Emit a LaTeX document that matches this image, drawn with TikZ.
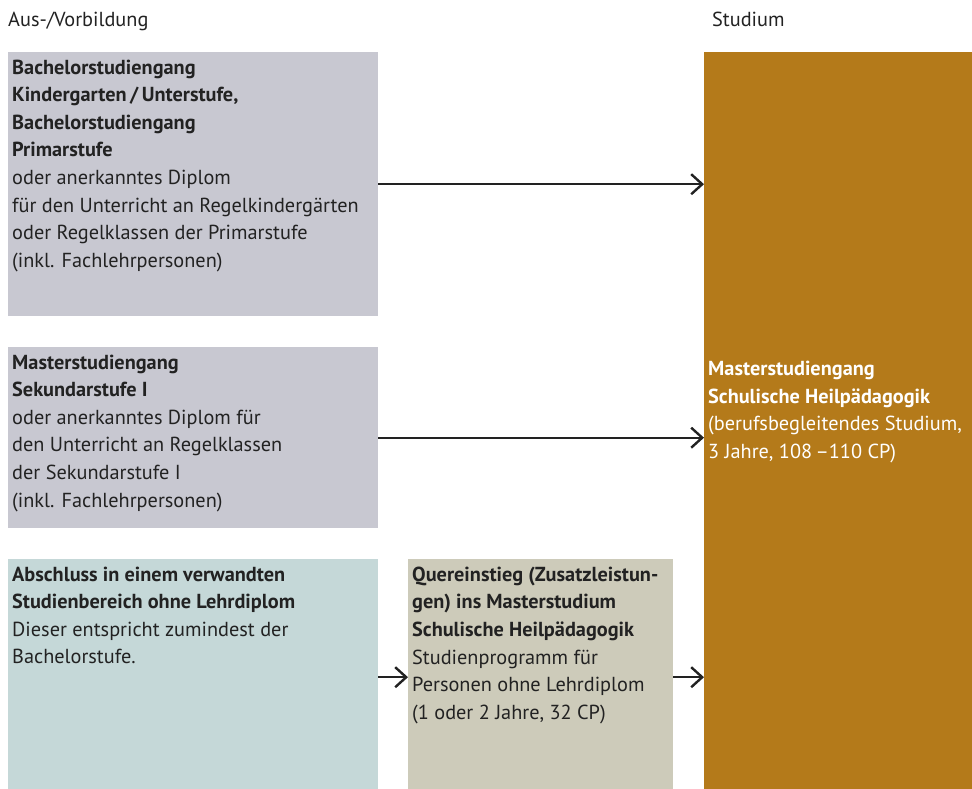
\documentclass[tikz,border=0pt]{standalone}
\usepackage{fontspec}
\setmainfont{PT Sans}
\usetikzlibrary{arrows.meta,positioning}
\definecolor{grau}{RGB}{200,200,209}
\definecolor{blaugrau}{RGB}{197,216,216}
\definecolor{beige}{RGB}{205,203,186}
\definecolor{ocker}{RGB}{180,122,26}
\definecolor{dunkel}{RGB}{34,34,34}
\tikzstyle{feld}=[fill=#1, draw=none, anchor=north west, inner sep=0pt]
\tikzstyle{txt}=[anchor=north west, align=left, inner sep=0pt, text=dunkel, font=\fontsize{20.3}{27.6}\selectfont]
\tikzstyle{pfeil}=[draw=dunkel, line width=2pt, -{Straight Barb[length=11pt,width=20pt,line width=2.4pt]}]

\begin{document}
\begin{tikzpicture}[x=1pt,y=-1pt]
\useasboundingbox (0,0) rectangle (972,789);
% Ueberschriften
\node[txt] (kopfl) at (8,12) {Aus-/Vorbildung};
\node[txt] (kopfr) at (712,12) {Studium};
% Felder
\node[feld=grau, minimum width=370pt, minimum height=264pt] (bachelor) at (8,52) {};
\node[feld=grau, minimum width=370pt, minimum height=181pt] (sek) at (8,347) {};
\node[feld=blaugrau, minimum width=370pt, minimum height=230pt] (andere) at (8,559) {};
\node[feld=beige, minimum width=265pt, minimum height=230pt] (quer) at (408,559) {};
\node[feld=ocker, minimum width=268pt, minimum height=737pt] (master) at (704,52) {};
% Texte
\node[txt] at ([xshift=4pt,yshift=-7.5pt]bachelor.north west)
  {\textbf{Bachelorstudiengang}\\\textbf{Kindergarten\,/\,Unterstufe,}\\\textbf{Bachelorstudiengang}\\\textbf{Primarstufe}\\
   oder anerkanntes Diplom\\für den Unterricht an Regelkindergärten\\oder Regelklassen der Primarstufe\\(inkl. Fachlehrpersonen)};
\node[txt] at ([xshift=4pt,yshift=-7.5pt]sek.north west)
  {\textbf{Masterstudiengang}\\\textbf{Sekundarstufe I}\\oder anerkanntes Diplom für\\den Unterricht an Regelklassen\\der Sekundarstufe I\\(inkl. Fachlehrpersonen)};
\node[txt] at ([xshift=4pt,yshift=-7.5pt]andere.north west)
  {\textbf{Abschluss in einem verwandten}\\\textbf{Studienbereich ohne Lehrdiplom}\\Dieser entspricht zumindest der\\Bachelorstufe.};
\node[txt] at ([xshift=4pt,yshift=-7.5pt]quer.north west)
  {\textbf{Quereinstieg (Zusatzleistun-}\\\textbf{gen) ins Masterstudium}\\\textbf{Schulische Heilpädagogik}\\Studienprogramm für\\Personen ohne Lehrdiplom\\(1 oder 2 Jahre, 32 CP)};
\node[txt, text=white] at ([xshift=4pt,yshift=-309pt]master.north west)
  {\textbf{Masterstudiengang}\\\textbf{Schulische Heilpädagogik}\\(berufsbegleitendes Studium,\\3 Jahre, 108\,–110 CP)};
% Pfeile
\draw[pfeil] (bachelor.east) -- (bachelor.east -| master.west);
\draw[pfeil] (sek.east) -- (sek.east -| master.west);
\draw[pfeil] ([yshift=-3pt]andere.east) -- ([yshift=-3pt]andere.east -| quer.west);
\draw[pfeil] ([yshift=-3pt]quer.east) -- ([yshift=-3pt]quer.east -| master.west);
\end{tikzpicture}
\end{document}
